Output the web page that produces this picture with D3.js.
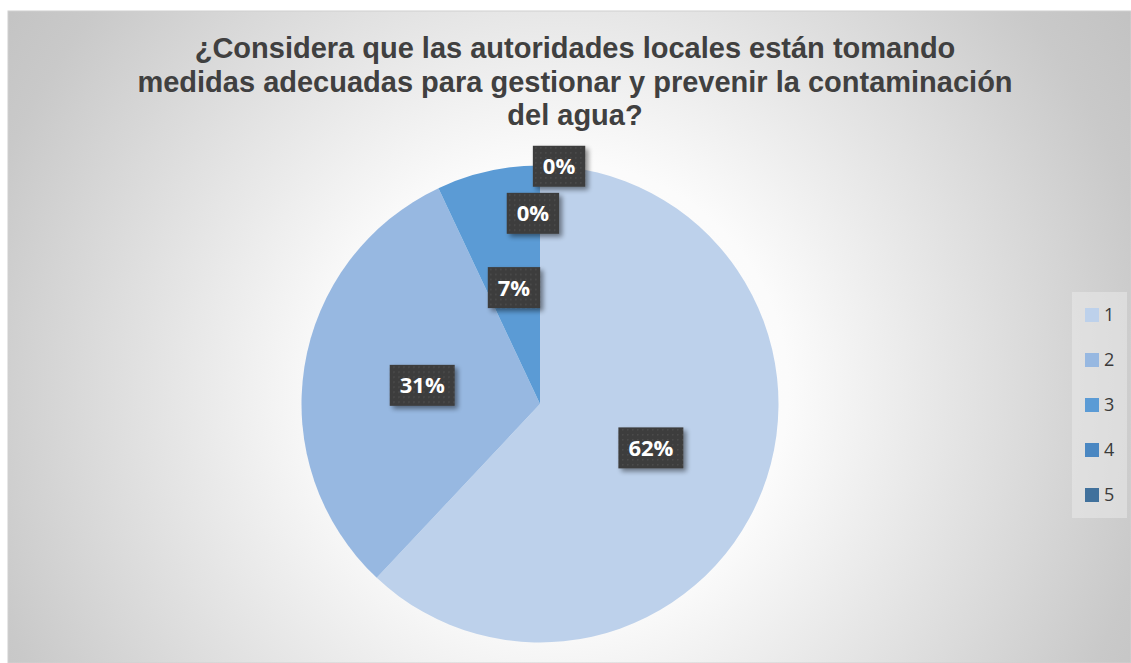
<!DOCTYPE html>
<html>
<head>
<meta charset="utf-8">
<script src="https://cdn.jsdelivr.net/npm/d3@7"></script>
<style>
  html, body { margin: 0; padding: 0; background: #ffffff; }
  svg { display: block; }
</style>
</head>
<body>
<svg id="chart" width="1131" height="663"></svg>
<script>
// Survey answers (response option -> share of respondents, %)
const categories = ["1", "2", "3", "4", "5"];
const values = [62, 31, 7, 0, 0];
const sliceColors = ["#BDD1EB", "#97B8E1", "#5B9BD5", "#4A87C2", "#41719C"];
const titleLines = [
  "¿Considera que las autoridades locales están tomando",
  "medidas adecuadas para gestionar y prevenir la contaminación",
  "del agua?"
];

const W = 1131, H = 663;
const svg = d3.select("#chart");
const defs = svg.append("defs");

// Chart area background: soft radial gradient, white in the middle, grey at the corners
const bg = defs.append("radialGradient")
  .attr("id", "bgGrad")
  .attr("gradientUnits", "userSpaceOnUse")
  .attr("cx", 560).attr("cy", 390).attr("r", 690);
[[0, "#ffffff"], [0.33, "#fbfbfb"], [0.47, "#eeeeee"], [0.87, "#c9c9c9"], [1, "#c2c2c2"]]
  .forEach(([o, c]) => bg.append("stop").attr("offset", o).attr("stop-color", c));

// Dotted texture for the data label boxes
const pat = defs.append("pattern")
  .attr("id", "dots").attr("patternUnits", "userSpaceOnUse")
  .attr("width", 5).attr("height", 5);
pat.append("rect").attr("width", 5).attr("height", 5).attr("fill", "#3c3c3c");
pat.append("rect").attr("x", 1).attr("y", 1).attr("width", 1.6).attr("height", 1.6).attr("fill", "#4d4d4d");

// Drop shadow for the label boxes
const sh = defs.append("filter").attr("id", "shadow")
  .attr("x", "-30%").attr("y", "-30%").attr("width", "170%").attr("height", "170%");
sh.append("feGaussianBlur").attr("in", "SourceAlpha").attr("stdDeviation", 2.5).attr("result", "b");
sh.append("feOffset").attr("in", "b").attr("dx", 3).attr("dy", 3).attr("result", "o");
sh.append("feComponentTransfer").attr("in", "o").attr("result", "s")
  .append("feFuncA").attr("type", "linear").attr("slope", 0.45);
const merge = sh.append("feMerge");
merge.append("feMergeNode").attr("in", "s");
merge.append("feMergeNode").attr("in", "SourceGraphic");

// Chart frame
svg.append("rect")
  .attr("x", 8).attr("y", 11).attr("width", W - 8).attr("height", H - 11)
  .attr("fill", "url(#bgGrad)")
  .attr("stroke", "#d0d0d0").attr("stroke-width", 1);

// Title
svg.append("text")
  .attr("x", 575).attr("y", 58)
  .attr("text-anchor", "middle")
  .attr("font-family", "'Liberation Sans', Arial, sans-serif")
  .attr("font-weight", "bold")
  .attr("font-size", 29)
  .attr("fill", "#404040")
  .selectAll("tspan").data(titleLines).join("tspan")
  .attr("x", 575)
  .attr("dy", (d, i) => i === 0 ? 0 : 33.5)
  .text(d => d);

// Pie
const cx = 540, cy = 404, R = 238.5;
const data = categories.map((c, i) => ({ cat: c, value: values[i], color: sliceColors[i] }));
const pie = d3.pie().sort(null).value(d => d.value);
const arcs = pie(data);
const arc = d3.arc().innerRadius(0).outerRadius(R);

const g = svg.append("g").attr("transform", `translate(${cx},${cy})`);
g.selectAll("path.slice").data(arcs).join("path")
  .attr("class", "slice")
  .attr("d", arc)
  .attr("fill", d => d.data.color);

// Data labels: non-empty slices sit at half radius; empty slices are
// stacked outward near the top so they don't overlap
const labelArc = d3.arc().innerRadius(R * 0.5).outerRadius(R * 0.5);
let zeroCount = 0;
const labelPos = arcs.map(a => {
  if (a.data.value > 0) return labelArc.centroid(a);
  const k = zeroCount++;
  const rr = R * (0.8 + 0.2 * k);
  const ang = a.startAngle + (k === 0 ? -0.037 : 0.08);
  return [Math.sin(ang) * rr, -Math.cos(ang) * rr];
});

const fmt = d3.format(".0%");
const total = d3.sum(values);
const lbl = g.selectAll("g.lbl").data(arcs).join("g")
  .attr("class", "lbl")
  .attr("transform", (d, i) => `translate(${labelPos[i][0]},${labelPos[i][1]})`);

lbl.each(function (d) {
  const t = fmt(d.data.value / total);
  const gg = d3.select(this);
  const txt = gg.append("text")
    .attr("text-anchor", "middle")
    .attr("dy", "0.36em")
    .attr("font-family", "'Open Sans', 'Liberation Sans', sans-serif")
    .attr("font-weight", "bold")
    .attr("font-size", 22)
    .attr("fill", "#ffffff")
    .text(t);
  const w = txt.node().getComputedTextLength() + 20;
  const h = 41;
  gg.insert("rect", "text")
    .attr("x", -w / 2).attr("y", -h / 2)
    .attr("width", w).attr("height", h)
    .attr("fill", "url(#dots)")
    .attr("filter", "url(#shadow)");
});

// Legend
const lg = svg.append("g").attr("transform", "translate(1072,292)");
lg.append("rect")
  .attr("width", 55).attr("height", 226)
  .attr("fill", "#eaeaea").attr("fill-opacity", 0.55);
const y = d3.scalePoint().domain(categories).range([23, 203]);
const item = lg.selectAll("g.item").data(data).join("g")
  .attr("class", "item")
  .attr("transform", d => `translate(13,${y(d.cat)})`);
item.append("rect")
  .attr("x", 0).attr("y", -7).attr("width", 14).attr("height", 14)
  .attr("fill", d => d.color);
item.append("text")
  .attr("x", 19).attr("dy", "0.36em")
  .attr("font-family", "'Open Sans', 'Liberation Sans', sans-serif")
  .attr("font-size", 18)
  .attr("fill", "#3a3a3a")
  .text(d => d.cat);
</script>
</body>
</html>
